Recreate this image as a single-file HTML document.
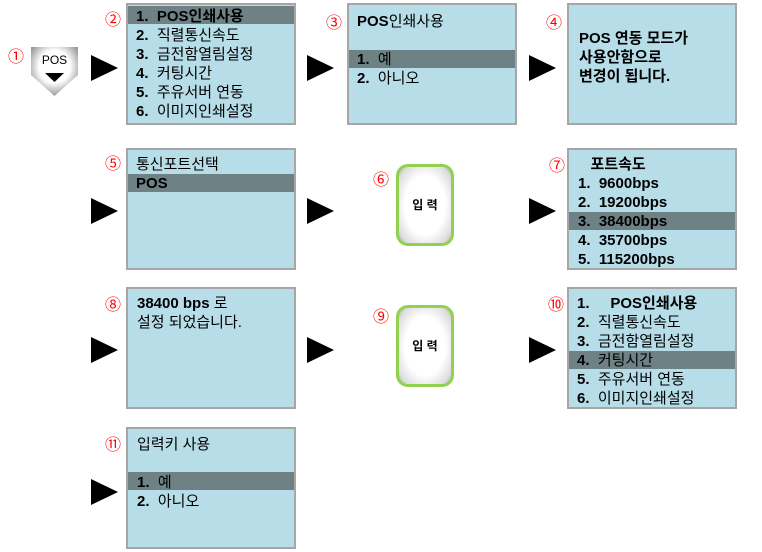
<!DOCTYPE html>
<html><head><meta charset="utf-8"><style>
body{margin:0;width:762px;height:552px;background:#fff;position:relative;overflow:hidden;font-family:"Liberation Sans","Noto Sans CJK KR",sans-serif;}
.box{position:absolute;width:166px;height:118px;background:#b7dde8;border:2px solid #a6a6a6;box-sizing:content-box;}
.hl{position:absolute;left:0;right:0;height:18px;background:#6e8286;}
.t{position:absolute;font-size:15px;line-height:19px;color:#000;white-space:pre;}
b{font-weight:bold}
.n{position:absolute;color:#f00;font-size:16px;line-height:16px;font-family:"Noto Sans CJK KR","DejaVu Sans",sans-serif;}
.ar{position:absolute;width:0;height:0;border-top:13px solid transparent;border-bottom:13px solid transparent;border-left:27px solid #000;}
.btn{position:absolute;width:52px;height:76px;border:3px solid #92d050;border-radius:12px;background:radial-gradient(ellipse at center,#fff 55%,#ddd 85%,#aaa 100%);font-size:12px;font-weight:bold;text-align:center;line-height:76px;}
</style></head><body>
<svg style="position:absolute;left:29px;top:45px" width="52" height="54">
<defs><radialGradient id="g" cx="50%" cy="40%" r="60%"><stop offset="55%" stop-color="#fff"/><stop offset="100%" stop-color="#999"/></radialGradient></defs>
<polygon points="2,2 49,2 49,30 25.5,51 2,30" fill="url(#g)"/>
<polygon points="16,28 35,28 25.5,37" fill="#000"/>
<text x="25.5" y="19" font-size="12" text-anchor="middle" font-family="Liberation Sans,sans-serif">POS</text>
</svg>
<div class="n" style="left:8px;top:47px">①</div>
<div class="ar" style="left:91px;top:55px"></div>

<div class="n" style="left:105px;top:10px">②</div>
<div class="box" style="left:126px;top:3px">
<div class="hl" style="top:1px"></div>
<div class="t" style="left:8px;top:2px"><b>1.  POS인쇄사용</b>
<b>2.</b>  직렬통신속도
<b>3.</b>  금전함열림설정
<b>4.</b>  커팅시간
<b>5.</b>  주유서버 연동
<b>6.</b>  이미지인쇄설정</div></div>

<div class="ar" style="left:307px;top:55px"></div>
<div class="n" style="left:326px;top:13px">③</div>
<div class="box" style="left:347px;top:3px">
<div class="hl" style="top:45px"></div>
<div class="t" style="left:8px;top:7px"><b>POS</b>인쇄사용

<b>1.</b>  예
<b>2.</b>  아니오</div></div>

<div class="ar" style="left:529px;top:55px"></div>
<div class="n" style="left:546px;top:13px">④</div>
<div class="box" style="left:567px;top:3px">
<div class="t" style="left:10px;top:24px"><b>POS 연동 모드가
사용안함으로
변경이 됩니다.</b></div></div>

<div class="n" style="left:105px;top:154px">⑤</div>
<div class="ar" style="left:91px;top:198px"></div>
<div class="box" style="left:126px;top:148px">
<div class="hl" style="top:24px"></div>
<div class="t" style="left:8px;top:5px">통신포트선택
<b>POS</b></div></div>

<div class="ar" style="left:307px;top:198px"></div>
<div class="n" style="left:373px;top:170px">⑥</div>
<div class="btn" style="left:396px;top:164px">입 력</div>

<div class="ar" style="left:529px;top:198px"></div>
<div class="n" style="left:549px;top:156px">⑦</div>
<div class="box" style="left:567px;top:148px">
<div class="hl" style="top:62px"></div>
<div class="t" style="left:9px;top:5px">   <b>포트속도</b>
<b>1.  9600bps
2.  19200bps
3.  38400bps
4.  35700bps
5.  115200bps</b></div></div>

<div class="n" style="left:105px;top:295px">⑧</div>
<div class="ar" style="left:91px;top:337px"></div>
<div class="box" style="left:126px;top:287px">
<div class="t" style="left:9px;top:5px"><b>38400 bps</b> 로
설정 되었습니다.</div></div>

<div class="ar" style="left:307px;top:337px"></div>
<div class="n" style="left:373px;top:307px">⑨</div>
<div class="btn" style="left:396px;top:305px">입 력</div>

<div class="ar" style="left:529px;top:337px"></div>
<div class="n" style="left:548px;top:295px">⑩</div>
<div class="box" style="left:567px;top:287px">
<div class="hl" style="top:62px"></div>
<div class="t" style="left:8px;top:5px"><b>1.     POS인쇄사용</b>
<b>2.</b>  직렬통신속도
<b>3.</b>  금전함열림설정
<b>4.</b>  커팅시간
<b>5.</b>  주유서버 연동
<b>6.</b>  이미지인쇄설정</div></div>

<div class="n" style="left:105px;top:435px">⑪</div>
<div class="ar" style="left:91px;top:479px"></div>
<div class="box" style="left:126px;top:427px">
<div class="hl" style="top:43px"></div>
<div class="t" style="left:9px;top:6px">입력키 사용

<b>1.</b>  예
<b>2.</b>  아니오</div></div>
</body></html>
